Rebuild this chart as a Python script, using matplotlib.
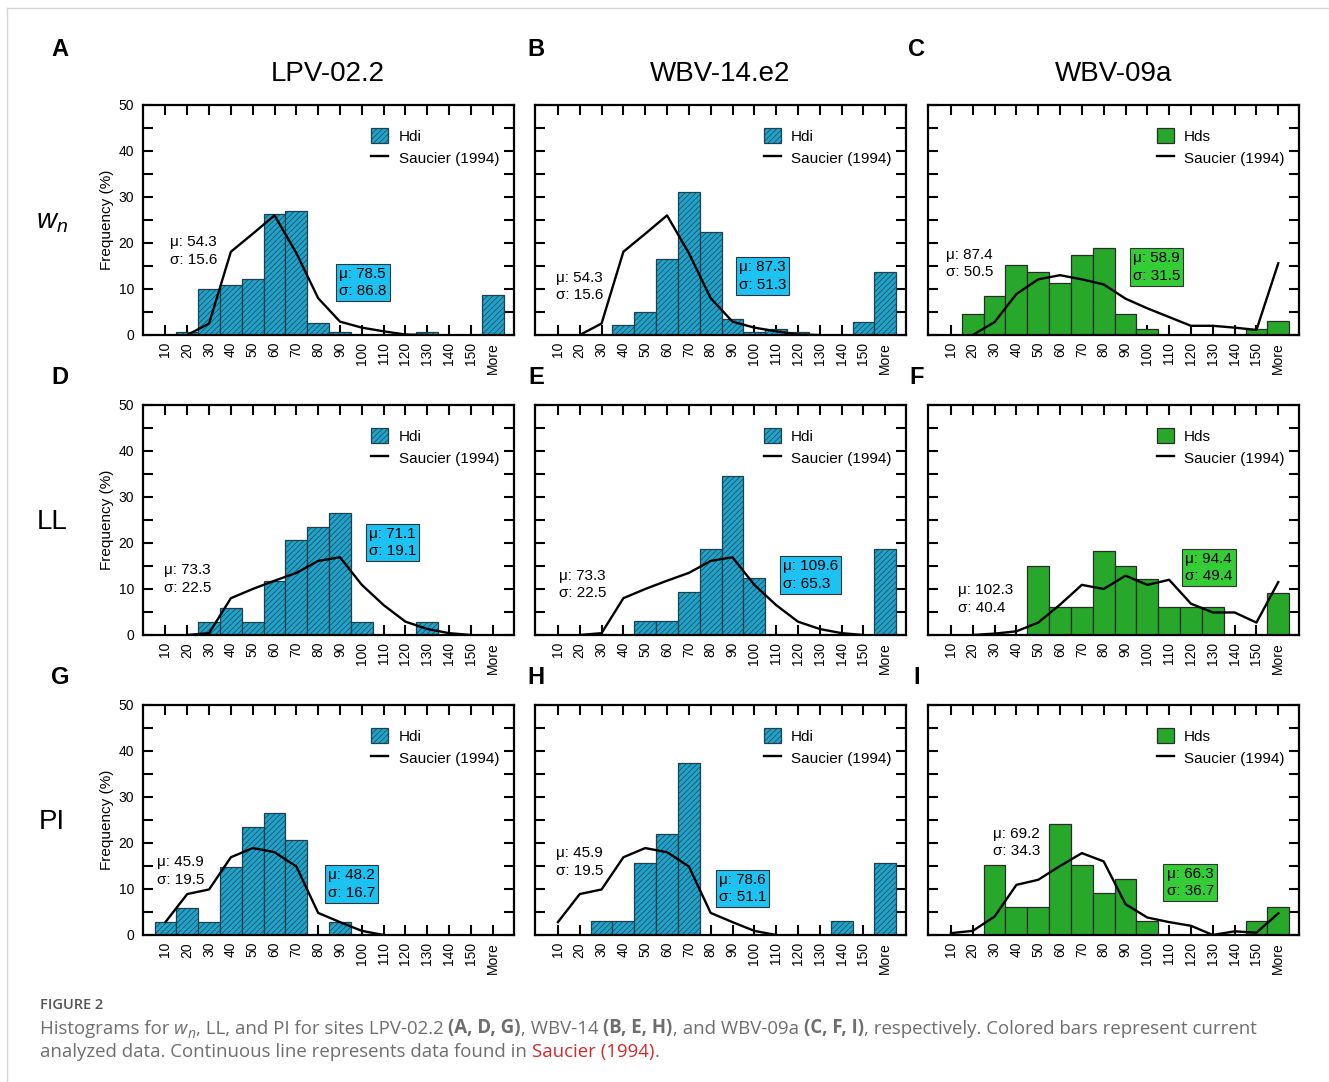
import numpy as np
import matplotlib.pyplot as plt
from matplotlib.patches import Patch
from matplotlib.lines import Line2D

plt.rcParams['font.family'] = ['Liberation Sans', 'DejaVu Sans']
plt.rcParams['mathtext.fontset'] = 'custom'
plt.rcParams['mathtext.rm'] = 'Liberation Sans'
plt.rcParams['mathtext.it'] = 'Liberation Sans:italic'
plt.rcParams['hatch.linewidth'] = 0.5

nan = np.nan

# --- data (frequency %) ---
categories = ['10', '20', '30', '40', '50', '60', '70', '80', '90', '100',
              '110', '120', '130', '140', '150', 'More']
sites = ['LPV-02.2', 'WBV-14.e2', 'WBV-09a']
rows = ['$w_n$', 'LL', 'PI']

# wn
wn_lpv = [0, 0.7, 10.1, 10.8, 12.2, 26.4, 27.0, 2.7, 0.7, 0, 0, 0, 0.7, 0, 0, 8.8]
wn_wbv14 = [0, 0, 0, 2.1, 5.0, 16.6, 31.0, 22.5, 3.5, 0.7, 1.4, 0.7, 0, 0, 2.8, 13.8]
wn_wbv09 = [0, 4.5, 8.4, 15.2, 13.6, 11.4, 17.5, 18.9, 4.5, 1.4, 0, 0, 0, 0, 1.4, 3.0]
wn_saucier_hdi = [nan, 0, 2.5, 18.1, 22.0, 26.0, 17.8, 8.0, 2.9, 1.6, 0.8, 0.1, 0, nan, nan, nan]
wn_saucier_hds = [nan, 0, 2.8, 8.9, 12.1, 13.0, 12.1, 11.0, 7.9, 5.8, 3.9, 2.0, 2.0, 1.6, 1.1, 15.6]

# LL
ll_lpv = [0, 0, 2.9, 5.9, 2.9, 11.8, 20.6, 23.5, 26.5, 2.9, 0, 0, 2.9, 0, 0, 0]
ll_wbv14 = [0, 0, 0, 0, 3.0, 3.0, 9.4, 18.8, 34.6, 12.5, 0, 0, 0, 0, 0, 18.8]
ll_wbv09 = [0, 0, 0, 0, 15.1, 6.1, 6.1, 18.2, 15.1, 12.1, 6.1, 6.1, 6.1, 0, 0, 9.1]
ll_saucier_hdi = [nan, 0, 0.4, 8.0, 10.0, 11.8, 13.5, 16.1, 16.9, 10.9, 6.5, 2.9, 1.3, 0.4, 0, nan]
ll_saucier_hds = [nan, 0, 0.3, 0.8, 2.7, 6.6, 10.9, 10.0, 12.9, 10.9, 12.0, 6.8, 4.9, 4.9, 2.7, 11.5]

# PI
pi_lpv = [2.9, 5.9, 2.9, 14.7, 23.5, 26.5, 20.6, 0, 2.9, 0, 0, 0, 0, 0, 0, 0]
pi_wbv14 = [0, 0, 3.1, 3.1, 15.6, 21.9, 37.5, 0, 0, 0, 0, 0, 0, 3.1, 0, 15.6]
pi_wbv09 = [0, 0, 15.2, 6.1, 6.1, 24.2, 15.2, 9.1, 12.1, 3.0, 0, 0, 0, 0, 3.0, 6.1]
pi_saucier_hdi = [2.8, 8.9, 9.9, 16.9, 18.9, 18.0, 14.9, 4.8, 2.8, 0.9, 0, nan, nan, nan, nan, nan]
pi_saucier_hds = [0.4, 0.9, 4.0, 10.9, 12.0, 15.0, 17.8, 16.0, 6.7, 3.8, 2.8, 2.0, 0, 0.8, 0.5, 4.7]

# stats (mu, sigma)
saucier_stats = [[(54.3, 15.6), (54.3, 15.6), (87.4, 50.5)],
                 [(73.3, 22.5), (73.3, 22.5), (102.3, 40.4)],
                 [(45.9, 19.5), (45.9, 19.5), (69.2, 34.3)]]
data_stats = [[(78.5, 86.8), (87.3, 51.3), (58.9, 31.5)],
              [(71.1, 19.1), (109.6, 65.3), (94.4, 49.4)],
              [(48.2, 16.7), (78.6, 51.1), (66.3, 36.7)]]

bars = [[wn_lpv, wn_wbv14, wn_wbv09], [ll_lpv, ll_wbv14, ll_wbv09], [pi_lpv, pi_wbv14, pi_wbv09]]
lines = [[wn_saucier_hdi, wn_saucier_hdi, wn_saucier_hds],
         [ll_saucier_hdi, ll_saucier_hdi, ll_saucier_hds],
         [pi_saucier_hdi, pi_saucier_hdi, pi_saucier_hds]]
letters = [['A', 'B', 'C'], ['D', 'E', 'F'], ['G', 'H', 'I']]

# text placement in axes fraction: (saucier x, y), (box x, y)
saucier_pos = [[(0.075, 0.365), (0.057, 0.21), (0.049, 0.312)],
               [(0.059, 0.243), (0.065, 0.219), (0.081, 0.156)],
               [(0.040, 0.278), (0.057, 0.317), (0.174, 0.402)]]
box_pos = [[(0.53, 0.228), (0.55, 0.256), (0.552, 0.296)],
           [(0.61, 0.402), (0.668, 0.261), (0.693, 0.293)],
           [(0.50, 0.222), (0.496, 0.202), (0.643, 0.228)]]

blue_bar = '#1ea4cc'
blue_box = '#1cc3f2'
green_bar = '#27a82a'
green_box = '#35cd35'

W, H = 1329, 1082
fig = plt.figure(figsize=(W / 100, H / 100), dpi=100)

lefts = [142.5, 535, 928]
tops = [105, 405, 705]
aw, ah = 371, 230
letter_x = [60, 536, 917]
letter_y = [50, 378, 678]

x = np.arange(len(categories))

for r in range(3):
    for c in range(3):
        ax = fig.add_axes([lefts[c] / W, 1 - (tops[r] + ah) / H, aw / W, ah / H])
        green = (c == 2)
        if green:
            ax.bar(x, bars[r][c], width=1, facecolor=green_bar, edgecolor='#2b2b2b',
                   linewidth=0.9, zorder=2)
        else:
            ax.bar(x, bars[r][c], width=1, facecolor=blue_bar, edgecolor='#23404a',
                   hatch='//////', linewidth=0.9, zorder=2)
        ax.plot(x, lines[r][c], color='black', lw=1.7, zorder=3)

        ax.set_xlim(-1.05, 15.95)
        ax.set_ylim(0, 50)
        ax.set_xticks(x)
        ax.set_xticklabels(categories, rotation=90)
        ax.set_yticks(np.arange(0, 51, 10))
        ax.set_yticks(np.arange(0, 51, 5), minor=True)
        ax.tick_params(axis='x', which='both', direction='in', top=True, bottom=True,
                       length=7, width=1.5, labelsize=10, pad=5)
        ax.tick_params(axis='y', which='both', direction='in', left=True, right=True,
                       length=7, width=1.5, labelsize=10, pad=6)
        if c > 0:
            ax.set_yticklabels([])
        for s in ax.spines.values():
            s.set_linewidth(1.6)

        # legend
        if green:
            ph = Patch(facecolor=green_bar, edgecolor='#2b2b2b', linewidth=0.9)
            lab = 'Hds'
        else:
            ph = Patch(facecolor=blue_bar, edgecolor='#23404a', hatch='//////', linewidth=0.9)
            lab = 'Hdi'
        lh = Line2D([0], [0], color='black', lw=1.7)
        ax.legend([ph, lh], [lab, 'Saucier (1994)'], loc='upper left',
                  bbox_to_anchor=(0.6, 0.928), frameon=False, fontsize=11,
                  handlelength=1.1, handleheight=1.2, handletextpad=0.7,
                  labelspacing=0.4, borderaxespad=0)

        mu, sd = saucier_stats[r][c]
        sx, sy = saucier_pos[r][c]
        ax.text(sx, sy, 'μ: %s\nσ: %s' % (mu, sd), transform=ax.transAxes,
                ha='left', va='center', fontsize=11, linespacing=1.3, zorder=4)
        mu, sd = data_stats[r][c]
        bx, by = box_pos[r][c]
        ax.text(bx, by, 'μ: %s\nσ: %s' % (mu, sd), transform=ax.transAxes,
                ha='left', va='center', fontsize=11, linespacing=1.3, zorder=4,
                bbox=dict(boxstyle='square,pad=0.2',
                          fc=green_box if green else blue_box, ec='#333333', lw=0.8))

        fig.text(letter_x[c] / W, 1 - letter_y[r] / H, letters[r][c], fontsize=17,
                 fontweight='bold', ha='center', va='center')

    # row label and y label
    fig.text(52 / W, 1 - (tops[r] + 117) / H, rows[r], fontsize=20, ha='center', va='center')
    fig.text(107 / W, 1 - (tops[r] + ah / 2) / H, 'Frequency (%)', rotation=90,
             fontsize=11, ha='center', va='center')

for c in range(3):
    fig.text((lefts[c] + aw / 2) / W, 1 - 74 / H, sites[c], fontsize=20,
             ha='center', va='center')

# page border lines
fig.add_artist(Line2D([7 / W, 1], [1 - 8 / H, 1 - 8 / H], color='#d5d5d5', lw=1,
                      transform=fig.transFigure))
fig.add_artist(Line2D([7 / W, 7 / W], [0, 1 - 8 / H], color='#d5d5d5', lw=1,
                      transform=fig.transFigure))

# caption
cap = fig.add_axes([0, 0, 1, 1], zorder=-1)
cap.axis('off')
cap_font = ['Open Sans', 'DejaVu Sans']
gray = '#6e6e6e'
fig.text(40 / W, 1 - 1005 / H, 'FIGURE 2', fontsize=10.5, color='#555555',
         fontweight='semibold', family=cap_font, va='center')


def chain(x0, y0, pieces):
    t = None
    for s, kw in pieces:
        kw = dict(kw)
        dy = kw.pop('dy', 0)
        base = dict(fontsize=13.4, color=gray, family=cap_font, va='bottom')
        base.update(kw)
        if t is None:
            t = cap.text(x0, y0, s, transform=fig.transFigure, **base)
        else:
            t = cap.annotate(s, xy=(1, 0), xycoords=t, xytext=(0, dy),
                             textcoords='offset points', **base)
    return t


line1 = [('Histograms for ', {}), ('w', {'style': 'italic'}),
         ('n', {'style': 'italic', 'fontsize': 10, 'dy': -3}),
         (', LL, and PI for sites LPV-02.2 ', {'dy': 3}),
         ('(A, D, G)', {'fontweight': 'bold'}), (', WBV-14 ', {}),
         ('(B, E, H)', {'fontweight': 'bold'}), (', and WBV-09a ', {}),
         ('(C, F, I)', {'fontweight': 'bold'}),
         (', respectively. Colored bars represent current', {})]
line2 = [('analyzed data. Continuous line represents data found in ', {}),
         ('Saucier (1994)', {'color': '#d42a2a'}), ('.', {})]
chain(40 / W, 1 - 1038 / H, line1)
chain(40 / W, 1 - 1061 / H, line2)

fig.savefig('out.png', dpi=100)
